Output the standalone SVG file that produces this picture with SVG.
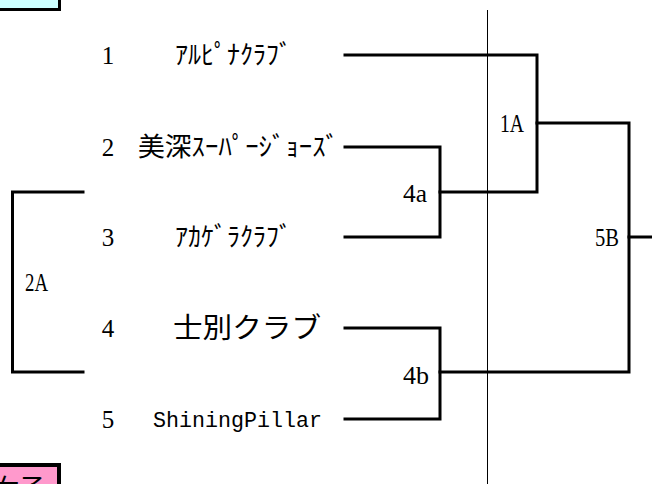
<svg xmlns="http://www.w3.org/2000/svg" width="652" height="484" viewBox="0 0 652 484">
<style>
.num{font-family:"Liberation Serif","Noto Sans CJK JP",serif;font-size:25px;fill:#000}
.jp{font-family:"Noto Sans CJK JP",sans-serif;font-size:26px;fill:#000}
.mono{font-family:"Liberation Mono",monospace;font-size:22px;fill:#000}
.lab{font-family:"Liberation Serif",serif;font-size:25px;fill:#000}
.br{fill:none;stroke:#000;stroke-width:3;stroke-linecap:square;stroke-linejoin:miter}
</style>
<rect width="652" height="484" fill="#fff"/>
<g id="box-top">
<rect x="-10" y="-10" width="71" height="21" fill="#000"/>
<rect x="-10" y="-10" width="68" height="18" fill="#ccffff"/>
</g>
<g id="box-bottom">
<rect x="-10" y="463" width="71" height="40" fill="#000"/>
<rect x="-10" y="467" width="67" height="36" fill="#ff99cc"/>
<text class="jp" x="-7" y="498">女子</text>
</g>
<line id="divider" x1="487.5" y1="10" x2="487.5" y2="484" stroke="#000" stroke-width="1"/>
<g id="team1"><text class="num" x="108" y="64" text-anchor="middle">1</text><text class="jp" x="175" y="64" textLength="117" lengthAdjust="spacingAndGlyphs">ｱﾙﾋﾟﾅｸﾗﾌﾞ</text></g>
<g id="team2"><text class="num" x="108" y="156" text-anchor="middle">2</text><text class="jp" x="138" y="156" textLength="201" lengthAdjust="spacingAndGlyphs">美深ｽｰﾊﾟｰｼﾞｮｰｽﾞ</text></g>
<g id="team3"><text class="num" x="108" y="246" text-anchor="middle">3</text><text class="jp" x="175" y="246" textLength="117" lengthAdjust="spacingAndGlyphs">ｱｶｹﾞﾗｸﾗﾌﾞ</text></g>
<g id="team4"><text class="num" x="108" y="337" text-anchor="middle">4</text><text class="jp" x="173" y="338" style="font-size:28px" textLength="148" lengthAdjust="spacingAndGlyphs">士別クラブ</text></g>
<g id="team5"><text class="num" x="108" y="428" text-anchor="middle">5</text><text class="mono" x="153" y="427" textLength="169" lengthAdjust="spacingAndGlyphs">ShiningPillar</text></g>
<g id="match-4a"><text class="lab" x="403" y="202" textLength="24" lengthAdjust="spacingAndGlyphs">4a</text></g>
<g id="match-4b"><text class="lab" x="403" y="384" textLength="26" lengthAdjust="spacingAndGlyphs">4b</text></g>
<g id="match-1A"><text class="lab" x="500" y="132" textLength="24" lengthAdjust="spacingAndGlyphs">1A</text></g>
<g id="match-5B"><text class="lab" x="595" y="246" textLength="24" lengthAdjust="spacingAndGlyphs">5B</text></g>
<g id="match-2A"><text class="lab" x="25" y="291" textLength="23" lengthAdjust="spacingAndGlyphs">2A</text></g>
<g id="connectors">
<path class="br" d="M345,55 H537 V192 H440"/>
<path class="br" d="M345,147 H440 V237 H345"/>
<path class="br" d="M537,123 H629 V372 H440"/>
<path class="br" d="M345,328 H440 V419 H345"/>
<path class="br" d="M629,237 H652"/>
<path class="br" d="M83,192 H12.5 V372 H83"/>
</g>
</svg>
